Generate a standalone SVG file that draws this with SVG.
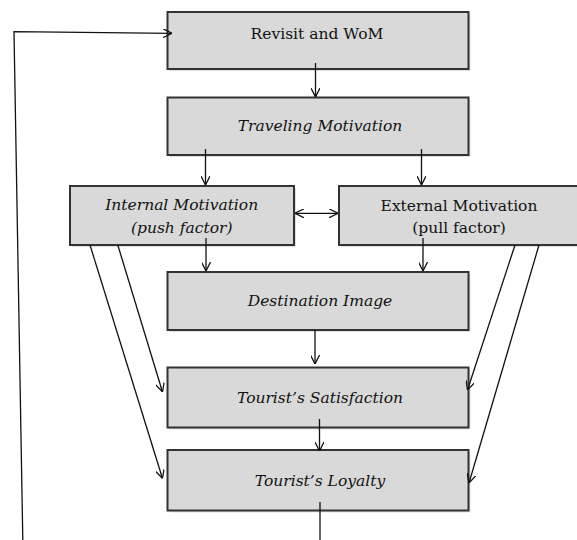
<svg xmlns="http://www.w3.org/2000/svg" width="577" height="540" viewBox="0 0 577 540">
<defs>
<style>
.box{fill:#d9d9d9;stroke:#333;stroke-width:2}
.sh{fill:#000;opacity:0.12}
.t{font-family:"DejaVu Serif","Liberation Serif",serif;font-size:15.5px;fill:#111;text-anchor:middle}
.i{font-style:italic}
.c{fill:none;stroke:#111;stroke-width:1.3}
</style>
<marker id="ah" viewBox="0 0 10 10" refX="10" refY="5" markerWidth="9" markerHeight="9" markerUnits="userSpaceOnUse" orient="auto-start-reverse">
<path d="M0,0 L10,5 L0,10" fill="none" stroke="#111" stroke-width="1.4"/>
</marker>
</defs>
<rect width="577" height="540" fill="#fff"/>
<g id="revisit">
<rect class="sh" x="169.5" y="14" width="301" height="57"/>
<rect class="box" x="167.5" y="12" width="301" height="57"/>
<text class="t" x="317" y="39">Revisit and  WoM</text>
</g>
<g id="traveling">
<rect class="sh" x="169.5" y="99.5" width="301" height="57.5"/>
<rect class="box" x="167.5" y="97.5" width="301" height="57.5"/>
<text class="t i" x="320" y="131">Traveling Motivation</text>
</g>
<g id="internal">
<rect class="sh" x="72" y="188" width="224" height="59"/>
<rect class="box" x="70" y="186" width="224" height="59"/>
<text class="t i" x="181.7" y="209.5">Internal Motivation</text>
<text class="t i" x="181.7" y="233">(push factor)</text>
</g>
<g id="external">
<rect class="sh" x="341" y="188" width="260" height="59"/>
<rect class="box" x="339" y="186" width="260" height="59"/>
<text class="t" x="459" y="210.5">External Motivation</text>
<text class="t" x="459" y="233">(pull factor)</text>
</g>
<g id="destination">
<rect class="sh" x="169.5" y="274" width="301" height="58"/>
<rect class="box" x="167.5" y="272" width="301" height="58"/>
<text class="t i" x="320" y="306">Destination Image</text>
</g>
<g id="satisfaction">
<rect class="sh" x="169.5" y="369.5" width="301" height="60"/>
<rect class="box" x="167.5" y="367.5" width="301" height="60"/>
<text class="t i" x="320" y="402.5">Tourist’s Satisfaction</text>
</g>
<g id="loyalty">
<rect class="sh" x="169.5" y="452" width="301" height="60.5"/>
<rect class="box" x="167.5" y="450" width="301" height="60.5"/>
<text class="t i" x="320" y="485.5">Tourist’s Loyalty</text>
</g>
<g id="connectors">
<path class="c" d="M22.8,540 L14,31.7 L172,33.3" marker-end="url(#ah)"/>
<path class="c" d="M315.5,63 L315.5,97" marker-end="url(#ah)"/>
<path class="c" d="M205.5,149 L205.5,185" marker-end="url(#ah)"/>
<path class="c" d="M421.5,149 L421.5,185" marker-end="url(#ah)"/>
<path class="c" d="M295,213.3 L338,213.3" marker-start="url(#ah)" marker-end="url(#ah)"/>
<path class="c" d="M206,238 L206,271" marker-end="url(#ah)"/>
<path class="c" d="M423,238 L423,271" marker-end="url(#ah)"/>
<path class="c" d="M315,330 L315,364" marker-end="url(#ah)"/>
<path class="c" d="M319.5,419 L319.5,451" marker-end="url(#ah)"/>
<path class="c" d="M117.8,245 L162.5,392" marker-end="url(#ah)"/>
<path class="c" d="M90,245 L162.5,478.5" marker-end="url(#ah)"/>
<path class="c" d="M515,245 L467.5,390" marker-end="url(#ah)"/>
<path class="c" d="M539,245 L469,483" marker-end="url(#ah)"/>
<path class="c" d="M320,502 L320,540"/>
</g>
</svg>
